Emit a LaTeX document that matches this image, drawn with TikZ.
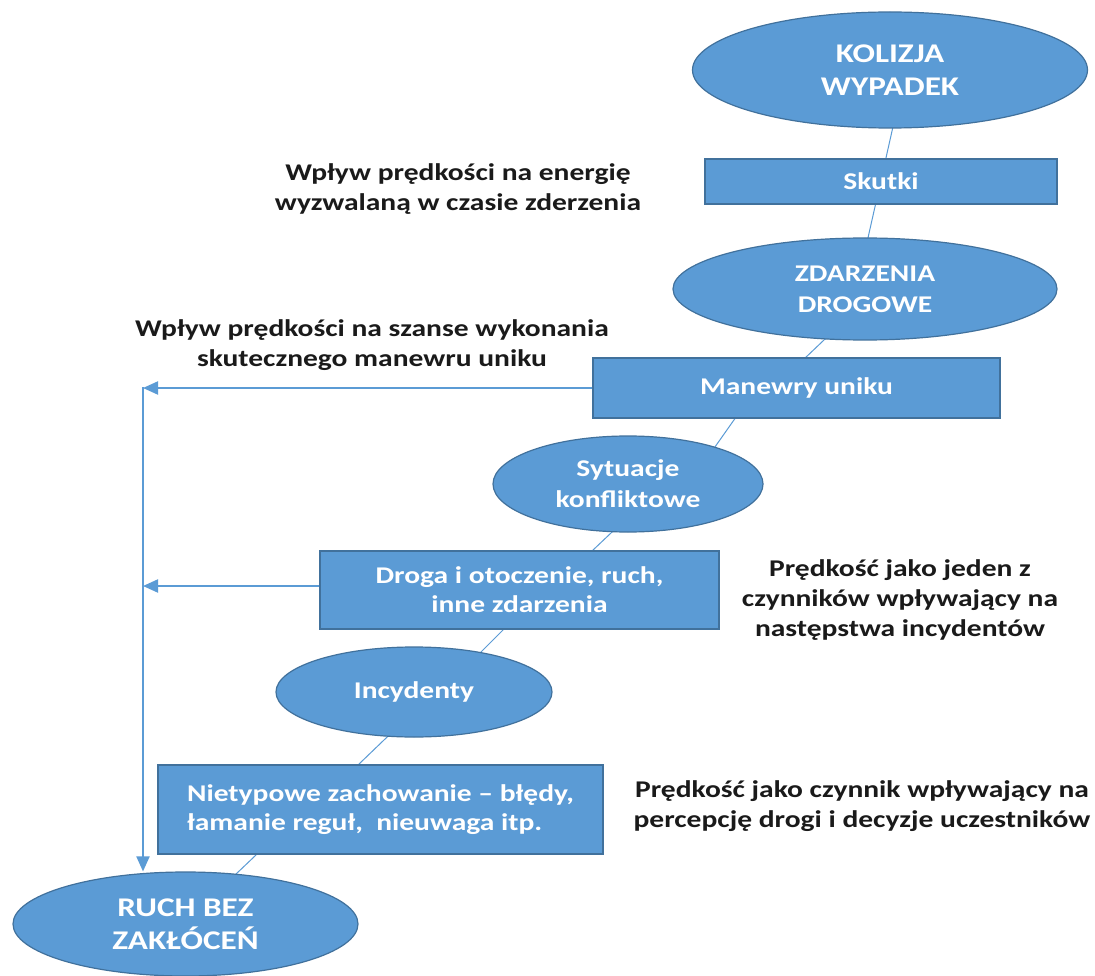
\documentclass[tikz,border=0pt]{standalone}
\usepackage{fontspec}
\setmainfont{Carlito}[FakeStretch=1.23]
\usetikzlibrary{shapes.geometric,arrows.meta,backgrounds}
\definecolor{fillblue}{HTML}{5B9BD5}
\definecolor{edgeblue}{HTML}{41719C}
\definecolor{inkblack}{HTML}{1A1A1A}
\begin{document}
\begin{tikzpicture}[x=1pt,y=-1pt,
  oval/.style={ellipse, draw=edgeblue, fill=fillblue, line width=1.2pt, text=white,
    font=\bfseries\fontsize{24}{31}\selectfont, align=center, inner sep=0pt},
  bigoval/.style={oval, font=\bfseries\fontsize{27}{33}\selectfont},
  box/.style={rectangle, draw=edgeblue, fill=fillblue, line width=1.2pt, text=white,
    font=\bfseries\fontsize{24}{29}\selectfont, align=center, inner sep=0pt},
  note/.style={font=\bfseries\fontsize{24}{30}\selectfont, align=center, text=inkblack, inner sep=0pt},
  link/.style={draw=fillblue, line width=1pt},
  arr/.style={draw=fillblue, line width=2pt, -{Triangle[length=15pt,width=13pt]}}]
\useasboundingbox (0,0) rectangle (1095,976);

% shapes
\node[bigoval, minimum width=395, minimum height=116] (kol) at (890,70) {KOLIZJA\\WYPADEK};
\node[box, minimum width=352, minimum height=45] (sku) at (881,181.5) {Skutki};
\node[oval, minimum width=384, minimum height=102] (zda) at (865,289) {ZDARZENIA\\DROGOWE};
\node[box, minimum width=407, minimum height=60] (man) at (796.5,388) {Manewry uniku};
\node[oval, minimum width=270, minimum height=96] (syt) at (628,484) {Sytuacje\\konfliktowe};
\node[box, minimum width=399, minimum height=78] (dro) at (519.5,590) {Droga i otoczenie, ruch,\\inne zdarzenia};
\node[oval, minimum width=276, minimum height=90] (inc) at (414,692) {Incydenty};
\node[box, minimum width=445, minimum height=89, align=left] (nie) at (380.5,809.5)
  {Nietypowe zachowanie -- błędy,\\łamanie reguł,\ \ nieuwaga itp.};
\node[bigoval, minimum width=345, minimum height=104] (ruch) at (185.5,924) {RUCH BEZ\\ZAKŁÓCEŃ};

% annotations
\node[note] (a1) at (458,189) {Wpływ prędkości na energię\\wyzwalaną w czasie zderzenia};
\node[note] (a2) at (372,345) {Wpływ prędkości na szanse wykonania\\skutecznego manewru uniku};
\node[note] (a3) at (900,600) {Prędkość jako jeden z\\czynników wpływający na\\następstwa incydentów};
\node[note] (a4) at (862,806) {Prędkość jako czynnik wpływający na\\percepcję drogi i decyzje uczestników};

% links behind shapes
\begin{scope}[on background layer]
\fill[white] (0,0) rectangle (1095,976);
\draw[link] ([shift={(9,30)}]kol.center) -- ([shift={(-2,-29)}]zda.center);
\draw[link] ([shift={(-20,31)}]zda.center) -- ([shift={(-14.5,-8)}]man.center);
\draw[link] ([shift={(-48.5,12)}]man.center) -- ([shift={(82,-30)}]syt.center);
\draw[link] ([shift={(3,30)}]syt.center) -- ([shift={(52.5,-20)}]dro.center);
\draw[link] ([shift={(3.5,20)}]dro.center) -- ([shift={(49,-22)}]inc.center);
\draw[link] ([shift={(-4,23)}]inc.center) -- ([shift={(-48.5,-19.5)}]nie.center);
\draw[link] ([shift={(-103.5,25.5)}]nie.center) -- ([shift={(28.5,-29)}]ruch.center);
\end{scope}

% feedback arrows
\coordinate (vx) at (143,387);
\draw[arr] (man.west) -- (man.west -| vx);
\draw[arr] ([yshift=4]dro.west) -- ([yshift=4]dro.west -| vx);
\draw[arr] (vx) -- (vx |- ruch.north);
\end{tikzpicture}
\end{document}
